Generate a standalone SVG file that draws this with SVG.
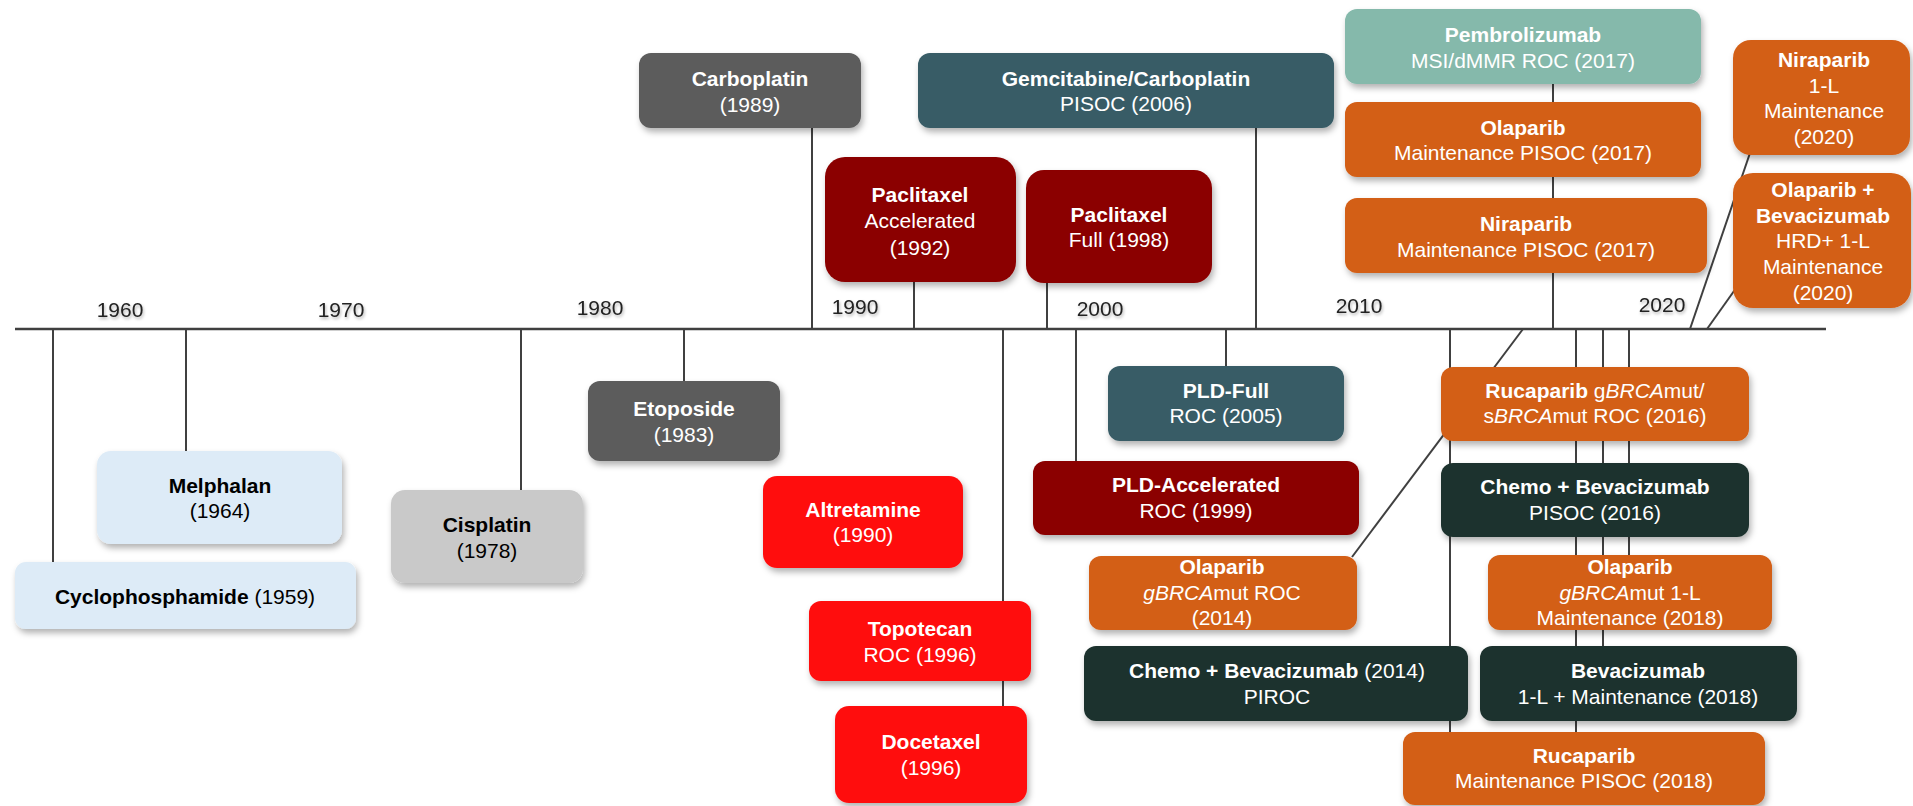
<svg xmlns="http://www.w3.org/2000/svg" width="1913" height="806" viewBox="0 0 1913 806">
<defs>
<filter id="sh" x="-10%" y="-10%" width="130%" height="140%">
<feDropShadow dx="2" dy="4" stdDeviation="3" flood-color="#000" flood-opacity="0.3"/>
</filter>
<filter id="tsh" x="-10%" y="-20%" width="130%" height="160%">
<feDropShadow dx="1" dy="2" stdDeviation="1.5" flood-color="#000" flood-opacity="0.3"/>
</filter>
</defs>
<style>
text{font-family:"Liberation Sans",Arial,sans-serif;font-size:21px;text-anchor:middle}
.w{fill:#fff}.k{fill:#000}
.b{font-weight:bold}.i{font-style:italic}
.yr{fill:#222;filter:url(#tsh)}
.ln{stroke:#404040;stroke-width:2;fill:none}
.ax{stroke:#404040;stroke-width:2.5}
rect{filter:url(#sh)}
.lb{fill:#DDEBF7}.lg{fill:#C9C9C9}.dg{fill:#5B5B5B}.dr{fill:#8B0000}.rd{fill:#FF1010}
.tl{fill:#375C66}.mt{fill:#85B9AB}.or{fill:#D35E15}.gn{fill:#1F332E}
</style>
<g id="connectors">
<line class="ln" x1="53" y1="329" x2="53" y2="562"/>
<line class="ln" x1="186" y1="329" x2="186" y2="451"/>
<line class="ln" x1="521" y1="329" x2="521" y2="490"/>
<line class="ln" x1="684" y1="329" x2="684" y2="381"/>
<line class="ln" x1="812" y1="128" x2="812" y2="329"/>
<line class="ln" x1="914" y1="282" x2="914" y2="329"/>
<line class="ln" x1="1003" y1="329" x2="1003" y2="706"/>
<line class="ln" x1="1047" y1="283" x2="1047" y2="329"/>
<line class="ln" x1="1076" y1="329" x2="1076" y2="461"/>
<line class="ln" x1="1226" y1="329" x2="1226" y2="366"/>
<line class="ln" x1="1256" y1="128" x2="1256" y2="329"/>
<line class="ln" x1="1450" y1="329" x2="1450" y2="732"/>
<line class="ln" x1="1553" y1="84" x2="1553" y2="329"/>
<line class="ln" x1="1523" y1="329" x2="1352" y2="557"/>
<line class="ln" x1="1576" y1="329" x2="1576" y2="732"/>
<line class="ln" x1="1603" y1="329" x2="1603" y2="646"/>
<line class="ln" x1="1629" y1="329" x2="1629" y2="555"/>
<line class="ln" x1="1690" y1="329" x2="1750" y2="153"/>
<line class="ln" x1="1707" y1="329" x2="1739" y2="284"/>
<line class="ax" x1="15" y1="329" x2="1826" y2="329"/>
</g>
<g id="years">
<text class="yr" x="120" y="317">1960</text>
<text class="yr" x="341" y="317">1970</text>
<text class="yr" x="600" y="315">1980</text>
<text class="yr" x="855" y="314">1990</text>
<text class="yr" x="1100" y="316">2000</text>
<text class="yr" x="1359" y="313">2010</text>
<text class="yr" x="1662" y="312">2020</text>
</g>
<g id="cyclophosphamide"><rect class="lb" x="15" y="562" width="341" height="67" rx="11"/><text class="k" x="185" y="604"><tspan class="b">Cyclophosphamide</tspan> (1959)</text></g>
<g id="melphalan"><rect class="lb" x="97" y="451" width="245" height="93" rx="14"/><text class="k b" x="220" y="493">Melphalan</text><text class="k" x="220" y="518">(1964)</text></g>
<g id="cisplatin"><rect class="lg" x="391" y="490" width="192" height="93" rx="14"/><text class="k b" x="487" y="532">Cisplatin</text><text class="k" x="487" y="558">(1978)</text></g>
<g id="etoposide"><rect class="dg" x="588" y="381" width="192" height="80" rx="12"/><text class="w b" x="684" y="416">Etoposide</text><text class="w" x="684" y="442">(1983)</text></g>
<g id="carboplatin"><rect class="dg" x="639" y="53" width="222" height="75" rx="12"/><text class="w b" x="750" y="86">Carboplatin</text><text class="w" x="750" y="112">(1989)</text></g>
<g id="altretamine"><rect class="rd" x="763" y="476" width="200" height="92" rx="14"/><text class="w b" x="863" y="517">Altretamine</text><text class="w" x="863" y="542">(1990)</text></g>
<g id="paclitaxel-acc"><rect class="dr" x="825" y="157" width="191" height="125" rx="20"/><text class="w b" x="920" y="202">Paclitaxel</text><text class="w" x="920" y="228">Accelerated</text><text class="w" x="920" y="255">(1992)</text></g>
<g id="topotecan"><rect class="rd" x="809" y="601" width="222" height="80" rx="12"/><text class="w b" x="920" y="636">Topotecan</text><text class="w" x="920" y="662">ROC (1996)</text></g>
<g id="docetaxel"><rect class="rd" x="835" y="706" width="192" height="97" rx="14"/><text class="w b" x="931" y="749">Docetaxel</text><text class="w" x="931" y="775">(1996)</text></g>
<g id="paclitaxel-full"><rect class="dr" x="1026" y="170" width="186" height="113" rx="18"/><text class="w b" x="1119" y="222">Paclitaxel</text><text class="w" x="1119" y="247">Full (1998)</text></g>
<g id="gemcitabine"><rect class="tl" x="918" y="53" width="416" height="75" rx="12"/><text class="w b" x="1126" y="86">Gemcitabine/Carboplatin</text><text class="w" x="1126" y="111">PISOC (2006)</text></g>
<g id="pld-full"><rect class="tl" x="1108" y="366" width="236" height="75" rx="12"/><text class="w b" x="1226" y="398">PLD-Full</text><text class="w" x="1226" y="423">ROC (2005)</text></g>
<g id="pld-acc"><rect class="dr" x="1033" y="461" width="326" height="74" rx="12"/><text class="w b" x="1196" y="492">PLD-Accelerated</text><text class="w" x="1196" y="518">ROC (1999)</text></g>
<g id="olaparib-2014"><rect class="or" x="1089" y="556" width="268" height="74" rx="12"/><text class="w b" x="1222" y="574">Olaparib</text><text class="w" x="1222" y="600"><tspan class="i">gBRCA</tspan>mut ROC</text><text class="w" x="1222" y="625">(2014)</text></g>
<g id="chemo-bev-2014"><rect class="gn" x="1084" y="646" width="384" height="75" rx="12"/><text class="w" x="1277" y="678"><tspan class="b">Chemo + Bevacizumab</tspan> (2014)</text><text class="w" x="1277" y="704">PIROC</text></g>
<g id="pembrolizumab"><rect class="mt" x="1345" y="9" width="356" height="75" rx="12"/><text class="w b" x="1523" y="42">Pembrolizumab</text><text class="w" x="1523" y="68">MSI/dMMR ROC (2017)</text></g>
<g id="olaparib-2017"><rect class="or" x="1345" y="102" width="356" height="75" rx="12"/><text class="w b" x="1523" y="135">Olaparib</text><text class="w" x="1523" y="160">Maintenance PISOC (2017)</text></g>
<g id="niraparib-2017"><rect class="or" x="1345" y="198" width="362" height="75" rx="12"/><text class="w b" x="1526" y="231">Niraparib</text><text class="w" x="1526" y="257">Maintenance PISOC (2017)</text></g>
<g id="niraparib-2020"><rect class="or" x="1733" y="40" width="177" height="115" rx="18"/><text class="w b" x="1824" y="67">Niraparib</text><text class="w" x="1824" y="93">1-L</text><text class="w" x="1824" y="118">Maintenance</text><text class="w" x="1824" y="144">(2020)</text></g>
<g id="olaparib-bev-2020"><rect class="or" x="1733" y="173" width="178" height="135" rx="20"/><text class="w b" x="1823" y="197">Olaparib +</text><text class="w b" x="1823" y="223">Bevacizumab</text><text class="w" x="1823" y="248">HRD+ 1-L</text><text class="w" x="1823" y="274">Maintenance</text><text class="w" x="1823" y="300">(2020)</text></g>
<g id="rucaparib-2016"><rect class="or" x="1441" y="367" width="308" height="74" rx="12"/><text class="w" x="1595" y="398"><tspan class="b">Rucaparib</tspan> g<tspan class="i">BRCA</tspan>mut/</text><text class="w" x="1595" y="423">s<tspan class="i">BRCA</tspan>mut ROC (2016)</text></g>
<g id="chemo-bev-2016"><rect class="gn" x="1441" y="463" width="308" height="74" rx="12"/><text class="w b" x="1595" y="494">Chemo + Bevacizumab</text><text class="w" x="1595" y="520">PISOC (2016)</text></g>
<g id="olaparib-2018"><rect class="or" x="1488" y="555" width="284" height="75" rx="12"/><text class="w b" x="1630" y="574">Olaparib</text><text class="w" x="1630" y="600"><tspan class="i">gBRCA</tspan>mut 1-L</text><text class="w" x="1630" y="625">Maintenance (2018)</text></g>
<g id="bevacizumab-2018"><rect class="gn" x="1480" y="646" width="317" height="75" rx="12"/><text class="w b" x="1638" y="678">Bevacizumab</text><text class="w" x="1638" y="704">1-L + Maintenance (2018)</text></g>
<g id="rucaparib-2018"><rect class="or" x="1403" y="732" width="362" height="73" rx="12"/><text class="w b" x="1584" y="763">Rucaparib</text><text class="w" x="1584" y="788">Maintenance PISOC (2018)</text></g>
</svg>
